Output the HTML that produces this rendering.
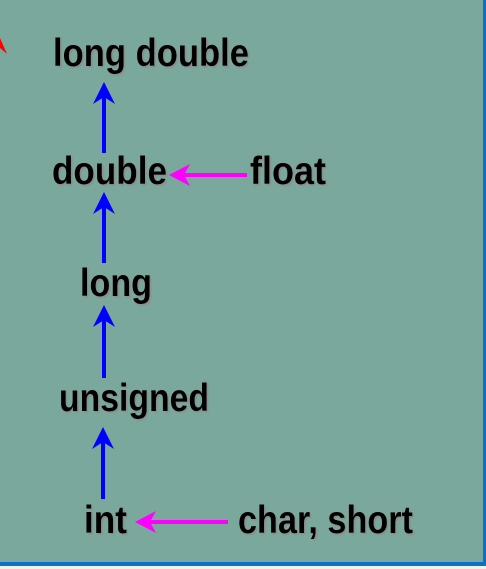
<!DOCTYPE html>
<html><head><meta charset="utf-8"><style>
html,body{margin:0;padding:0;background:#f4f1ea}
svg{display:block}
text{font-family:"Liberation Sans",sans-serif;font-weight:bold;font-size:39px;fill:#000}
</style></head><body>
<svg width="486" height="569" viewBox="0 0 486 569">
<defs>
<filter id="sh" x="-5%" y="-20%" width="115%" height="150%"><feDropShadow dx="1.5" dy="1.5" stdDeviation="0.8" flood-color="#8a8a8a" flood-opacity="0.9"/></filter>
</defs>
<rect x="0" y="0" width="486" height="566" fill="#7ba89c"/>
<rect x="483" y="0" width="3" height="566" fill="#0a72c8"/>
<rect x="0" y="562" width="486" height="4" fill="#0a72c8"/>
<polygon points="0,38 7,54 0,48" fill="#ff0000"/>
<g filter="url(#sh)">
<text x="53" y="66" textLength="196" lengthAdjust="spacingAndGlyphs">long double</text>
<text x="52" y="184" textLength="115" lengthAdjust="spacingAndGlyphs">double</text>
<text x="250" y="184" textLength="76" lengthAdjust="spacingAndGlyphs">float</text>
<text x="80" y="296" textLength="72" lengthAdjust="spacingAndGlyphs">long</text>
<text x="59" y="411" textLength="150" lengthAdjust="spacingAndGlyphs">unsigned</text>
<text x="84" y="533" textLength="43" lengthAdjust="spacingAndGlyphs">int</text>
<text x="238" y="533" textLength="175" lengthAdjust="spacingAndGlyphs">char, short</text>
</g>
<g fill="#0000ff" stroke="none">
<g><rect x="102" y="96" width="4" height="57"/><polygon points="104,82 115,104 104,97 93,104"/></g>
<g><rect x="102" y="206" width="4" height="57"/><polygon points="104,192 115,214 104,207 93,214"/></g>
<g><rect x="102" y="319" width="4" height="59"/><polygon points="104,305 115,327 104,320 93,327"/></g>
<g><rect x="101" y="441" width="4" height="58"/><polygon points="103,427 114,449 103,442 92,449"/></g>
</g>
<g fill="#ff00ff">
<g><rect x="183" y="173" width="64" height="4"/><polygon points="169,175 190,164 184,175 190,186"/></g>
<g><rect x="149" y="520" width="79" height="4"/><polygon points="135,522 156,511 150,522 156,533"/></g>
</g>
</svg>
</body></html>
